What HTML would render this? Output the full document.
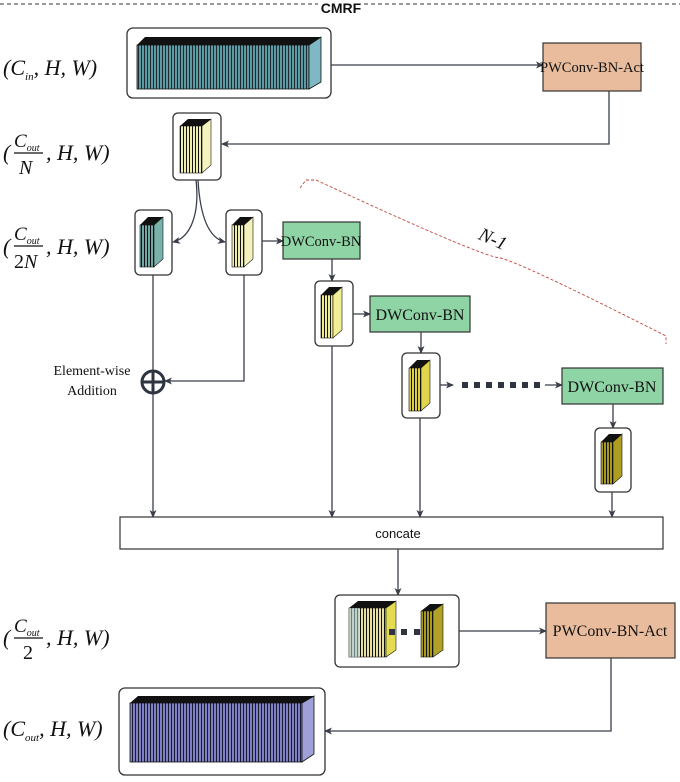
<!DOCTYPE html>
<html><head><meta charset="utf-8"><style>
html,body{margin:0;padding:0;background:#fff;}
svg{display:block;}
.t{font-family:"Liberation Serif",serif;fill:#111;}
.l{stroke:#3a3f4a;stroke-width:1.3;fill:none;}
</style></head><body>
<svg width="680" height="782" viewBox="0 0 680 782" xmlns="http://www.w3.org/2000/svg">
<defs>
<marker id="a" markerWidth="8" markerHeight="8" refX="7" refY="4" orient="auto" markerUnits="userSpaceOnUse"><path d="M0,0.5 L8,4 L0,7.5 L2,4 Z" fill="#3a3f4a"/></marker>
<pattern id="pTeal" width="3" height="10" patternUnits="userSpaceOnUse"><rect width="3" height="10" fill="#5e9aa2"/><rect width="1" height="10" fill="#1a2a30"/></pattern>
<pattern id="pBlue" width="3" height="10" patternUnits="userSpaceOnUse"><rect width="3" height="10" fill="#7f80c2"/><rect width="1" height="10" fill="#1a1a30"/></pattern>
<pattern id="pTeal2" width="3" height="10" patternUnits="userSpaceOnUse"><rect width="3" height="10" fill="#6fa8a6"/><rect width="1" height="10" fill="#111"/></pattern>
<pattern id="pY1" width="3" height="10" patternUnits="userSpaceOnUse"><rect width="3" height="10" fill="#eeeeb0"/><rect width="1" height="10" fill="#111"/></pattern>
<pattern id="pY2" width="3" height="10" patternUnits="userSpaceOnUse"><rect width="3" height="10" fill="#f0ec90"/><rect width="1" height="10" fill="#111"/></pattern>
<pattern id="pY3" width="3" height="10" patternUnits="userSpaceOnUse"><rect width="3" height="10" fill="#dcd040"/><rect width="1" height="10" fill="#111"/></pattern>
<pattern id="pY4" width="3" height="10" patternUnits="userSpaceOnUse"><rect width="3" height="10" fill="#a89a20"/><rect width="1" height="10" fill="#111"/></pattern>
<pattern id="pMix" width="3" height="10" patternUnits="userSpaceOnUse"><rect width="3" height="10" fill="#e8e0a0"/><rect width="1" height="10" fill="#111"/></pattern>
</defs>

<line x1="0" y1="4" x2="680" y2="4" stroke="#333" stroke-width="1" stroke-dasharray="4,3"/>
<rect x="318" y="0" width="46" height="14" fill="#fff"/>
<text x="341" y="13" text-anchor="middle" style="font-family:'Liberation Sans',sans-serif;font-weight:bold;font-size:14px;fill:#111">CMRF</text>

<!-- left labels -->
<g class="t" font-style="italic" font-size="22">
<text x="3" y="75">(<tspan>C</tspan><tspan font-size="11" dy="5">in</tspan><tspan dy="-5">, H, W)</tspan></text>
<text x="3" y="160">(</text>
<text x="14" y="147" font-size="19">C<tspan font-size="10" dy="4">out</tspan></text>
<line x1="14" y1="153" x2="43" y2="153" stroke="#111" stroke-width="1.2"/>
<text x="19" y="174" font-size="20">N</text>
<text x="46" y="160">, H, W)</text>
<text x="3" y="254">(</text>
<text x="14" y="240" font-size="19">C<tspan font-size="10" dy="4">out</tspan></text>
<line x1="14" y1="246" x2="43" y2="246" stroke="#111" stroke-width="1.2"/>
<text x="14" y="268" font-size="20" font-style="normal">2<tspan font-style="italic">N</tspan></text>
<text x="46" y="254">, H, W)</text>
<text x="3" y="645">(</text>
<text x="14" y="632" font-size="19">C<tspan font-size="10" dy="4">out</tspan></text>
<line x1="14" y1="638" x2="43" y2="638" stroke="#111" stroke-width="1.2"/>
<text x="23" y="659" font-size="20" font-style="normal">2</text>
<text x="46" y="645">, H, W)</text>
<text x="3" y="736">(C<tspan font-size="11" dy="5">out</tspan><tspan dy="-5">, H, W)</tspan></text>
</g>

<!-- input box -->
<rect x="127" y="28" width="204" height="70" rx="6" fill="#fff" stroke="#333" stroke-width="1.3"/>
<rect x="137" y="45" width="172" height="44" fill="url(#pTeal)" stroke="#111" stroke-width="0.8"/>
<polygon points="137,45 145,37 321,37 309,45" fill="#111"/>
<polygon points="309,45 321,37 321,82 309,89" fill="#7fb8c4" stroke="#111" stroke-width="0.8"/>

<line class="l" x1="331" y1="65" x2="543" y2="65" marker-end="url(#a)"/>
<rect x="543" y="43" width="98" height="48" fill="#e8bc9c" stroke="#333" stroke-width="1.2"/>
<text class="t" x="592" y="72" text-anchor="middle" font-size="14.5">PWConv-BN-Act</text>
<polyline class="l" points="609,91 609,144 222,144" marker-end="url(#a)"/>

<!-- box2 -->
<rect x="173" y="113" width="48" height="67" rx="5" fill="#fff" stroke="#333" stroke-width="1.3"/>
<rect x="180" y="126" width="22" height="47" fill="url(#pY1)" stroke="#111" stroke-width="0.6"/>
<polygon points="180,126 188,119 211,119 202,126" fill="#111"/>
<polygon points="202,126 211,119 211,165 202,173" fill="#f5f3c0" stroke="#111" stroke-width="0.6"/>

<path class="l" d="M196,180 C200,215 190,238 173,242" marker-end="url(#a)"/>
<path class="l" d="M198,180 C200,215 208,238 225,242" marker-end="url(#a)"/>

<!-- box3a -->
<rect x="135" y="210" width="37" height="65" rx="5" fill="#fff" stroke="#333" stroke-width="1.3"/>
<rect x="140" y="225" width="14" height="42" fill="url(#pTeal2)" stroke="#111" stroke-width="0.6"/>
<polygon points="140,225 148,217 163,217 154,225" fill="#111"/>
<polygon points="154,225 163,217 163,259 154,267" fill="#78b2aa" stroke="#111" stroke-width="0.6"/>
<!-- box3b -->
<rect x="226" y="210" width="36" height="65" rx="5" fill="#fff" stroke="#333" stroke-width="1.3"/>
<rect x="232" y="225" width="12" height="42" fill="url(#pY1)" stroke="#111" stroke-width="0.6"/>
<polygon points="232,225 240,217 253,217 244,225" fill="#111"/>
<polygon points="244,225 253,217 253,259 244,267" fill="#f4f2bc" stroke="#111" stroke-width="0.6"/>

<line class="l" x1="262" y1="241" x2="283" y2="241" marker-end="url(#a)"/>
<rect x="283" y="222" width="77" height="37" fill="#8ed4a4" stroke="#333" stroke-width="1.2"/>
<text class="t" x="321" y="246" text-anchor="middle" font-size="14.5">DWConv-BN</text>
<line class="l" x1="332" y1="259" x2="332" y2="281" marker-end="url(#a)"/>

<!-- box4 -->
<rect x="315" y="281" width="38" height="65" rx="5" fill="#fff" stroke="#333" stroke-width="1.3"/>
<rect x="321" y="295" width="12" height="43" fill="url(#pY2)" stroke="#111" stroke-width="0.6"/>
<polygon points="321,295 329,287 342,287 333,295" fill="#111"/>
<polygon points="333,295 342,287 342,330 333,338" fill="#f3ef96" stroke="#111" stroke-width="0.6"/>
<line class="l" x1="353" y1="314" x2="370" y2="314" marker-end="url(#a)"/>
<rect x="370" y="296" width="100" height="36" fill="#8ed4a4" stroke="#333" stroke-width="1.2"/>
<text class="t" x="420" y="320" text-anchor="middle" font-size="16">DWConv-BN</text>
<line class="l" x1="421" y1="332" x2="421" y2="353" marker-end="url(#a)"/>

<!-- box5 -->
<rect x="402" y="353" width="38" height="65" rx="5" fill="#fff" stroke="#333" stroke-width="1.3"/>
<rect x="409" y="368" width="12" height="43" fill="url(#pY3)" stroke="#111" stroke-width="0.6"/>
<polygon points="409,368 417,360 430,360 421,368" fill="#111"/>
<polygon points="421,368 430,360 430,403 421,411" fill="#e0d44a" stroke="#111" stroke-width="0.6"/>
<line class="l" x1="440" y1="385" x2="453" y2="385" marker-end="url(#a)"/>
<line x1="462" y1="385" x2="545" y2="385" stroke="#2e3440" stroke-width="6" stroke-dasharray="6,6"/>
<line class="l" x1="545" y1="385" x2="562" y2="385" marker-end="url(#a)"/>
<rect x="562" y="368" width="101" height="36" fill="#8ed4a4" stroke="#333" stroke-width="1.2"/>
<text class="t" x="612" y="392" text-anchor="middle" font-size="16">DWConv-BN</text>
<line class="l" x1="613" y1="404" x2="613" y2="428" marker-end="url(#a)"/>

<!-- box6 -->
<rect x="595" y="428" width="36" height="64" rx="5" fill="#fff" stroke="#333" stroke-width="1.3"/>
<rect x="601" y="442" width="12" height="42" fill="url(#pY4)" stroke="#111" stroke-width="0.6"/>
<polygon points="601,442 609,434 622,434 613,442" fill="#111"/>
<polygon points="613,442 622,434 622,476 613,484" fill="#ad9e22" stroke="#111" stroke-width="0.6"/>

<!-- N-1 bracket -->
<path d="M300,188 L306,180 L316,180 Q480,256 500,258 Q520,262 666,336 L666,344" fill="none" stroke="#c0463c" stroke-width="0.9" stroke-dasharray="3,2"/>
<text class="t" x="478" y="244" font-size="19" font-style="italic" transform="rotate(24 490 240)">N-1</text>

<!-- addition -->
<line class="l" x1="153" y1="275" x2="153" y2="517" marker-end="url(#a)"/>
<polyline class="l" points="244,275 244,381 165,381" marker-end="url(#a)"/>
<circle cx="153" cy="382" r="11" fill="#fff" stroke="#2e3440" stroke-width="3"/>
<line x1="142" y1="382" x2="164" y2="382" stroke="#2e3440" stroke-width="3"/>
<line x1="153" y1="371" x2="153" y2="393" stroke="#2e3440" stroke-width="3"/>
<text class="t" x="92" y="375" text-anchor="middle" font-size="14">Element-wise</text>
<text class="t" x="92" y="395" text-anchor="middle" font-size="14">Addition</text>

<line class="l" x1="332" y1="346" x2="332" y2="517" marker-end="url(#a)"/>
<line class="l" x1="420" y1="418" x2="420" y2="517" marker-end="url(#a)"/>
<line class="l" x1="612" y1="492" x2="612" y2="517" marker-end="url(#a)"/>

<rect x="120" y="517" width="543" height="32" fill="#fff" stroke="#333" stroke-width="1.2"/>
<text x="398" y="538" text-anchor="middle" style="font-family:'Liberation Sans',sans-serif;font-size:13px;fill:#111">concate</text>
<line class="l" x1="398" y1="549" x2="398" y2="595" marker-end="url(#a)"/>

<!-- box7 -->
<rect x="335" y="595" width="124" height="72" rx="5" fill="#fff" stroke="#333" stroke-width="1.3"/>
<rect x="349" y="608" width="37" height="49" fill="url(#pMix)" stroke="#111" stroke-width="0.6"/>
<rect x="349" y="608" width="10" height="49" fill="#a8c8d8" opacity="0.6"/>
<polygon points="349,608 358,601 396,601 386,608" fill="#111"/>
<polygon points="386,608 396,601 396,650 386,657" fill="#e4dc50" stroke="#111" stroke-width="0.6"/>
<rect x="389" y="629" width="6" height="6" fill="#2e3440"/>
<rect x="401" y="629" width="6" height="6" fill="#2e3440"/>
<rect x="414" y="629" width="6" height="6" fill="#2e3440"/>
<rect x="421" y="611" width="12" height="46" fill="url(#pY4)" stroke="#111" stroke-width="0.6"/>
<polygon points="421,611 430,604 443,604 433,611" fill="#111"/>
<polygon points="433,611 443,604 443,650 433,657" fill="#b0a228" stroke="#111" stroke-width="0.6"/>

<line class="l" x1="459" y1="631" x2="546" y2="631" marker-end="url(#a)"/>
<rect x="546" y="603" width="129" height="55" fill="#e8bc9c" stroke="#333" stroke-width="1.2"/>
<text class="t" x="610" y="636" text-anchor="middle" font-size="16">PWConv-BN-Act</text>
<polyline class="l" points="611,658 611,731 325,731" marker-end="url(#a)"/>

<!-- box8 -->
<rect x="119" y="688" width="206" height="87" rx="6" fill="#fff" stroke="#333" stroke-width="1.3"/>
<rect x="130" y="703" width="172" height="59" fill="url(#pBlue)" stroke="#111" stroke-width="0.8"/>
<polygon points="130,703 138,696 314,696 302,703" fill="#111"/>
<polygon points="302,703 314,696 314,754 302,762" fill="#a0a0d8" stroke="#111" stroke-width="0.8"/>
</svg>
</body></html>
